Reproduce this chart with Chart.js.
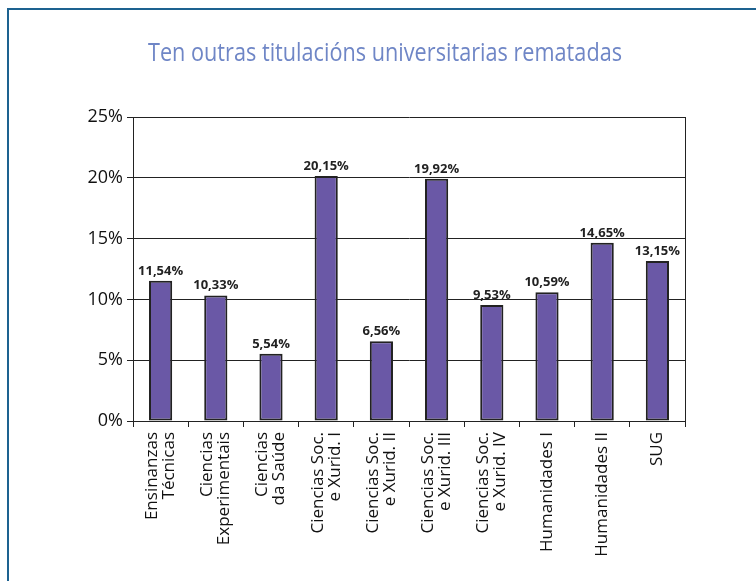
<!DOCTYPE html>
<html><head><meta charset="utf-8">
<script src="https://cdn.jsdelivr.net/npm/chart.js@4.4.1/dist/chart.umd.min.js"></script>
<style>
html,body{margin:0;padding:0;background:#fff;}
#wrap{position:relative;width:756px;height:581px;overflow:hidden;}
#frame{position:absolute;left:7px;top:8px;right:-10px;bottom:-10px;border-left:2px solid #1d6290;border-top:2px solid #1d6290;pointer-events:none;}
canvas{position:absolute;left:0;top:0;}
</style></head>
<body><div id="wrap"><canvas id="c" width="756" height="581"></canvas><div id="frame"></div></div>
<script>
const chartTitle = "Ten outras titulacións universitarias rematadas";
const categories = [
  ["Ensinanzas","Técnicas"],
  ["Ciencias","Experimentais"],
  ["Ciencias","da Saúde"],
  ["Ciencias Soc.","e Xurid. I"],
  ["Ciencias Soc.","e Xurid. II"],
  ["Ciencias Soc.","e Xurid. III"],
  ["Ciencias Soc.","e Xurid. IV"],
  ["Humanidades I"],
  ["Humanidades II"],
  ["SUG"]
];
const values = [11.54, 10.33, 5.54, 20.15, 6.56, 19.92, 9.53, 10.59, 14.65, 13.15];
const yTicks = [0, 5, 10, 15, 20, 25];

const fmt = v => v.toFixed(2).replace('.', ',') + '%';

const extras = {
  id: 'extras',
  afterDraw(chart) {
    const ctx = chart.ctx, a = chart.chartArea;
    ctx.save();
    // right frame of plot area
    ctx.strokeStyle = '#222';
    ctx.lineWidth = 1;
    ctx.beginPath();
    ctx.moveTo(Math.round(a.right) + 0.5, a.top);
    ctx.lineTo(Math.round(a.right) + 0.5, a.bottom);
    ctx.stroke();
    // value labels
    const meta = chart.getDatasetMeta(0);
    ctx.font = 'bold 13px "Open Sans", sans-serif';
    ctx.fillStyle = '#222';
    ctx.textAlign = 'center';
    ctx.textBaseline = 'alphabetic';
    meta.data.forEach((bar, i) => {
      ctx.fillText(fmt(values[i]), bar.x, bar.y - 6);
    });
    // category labels, rotated, lines centred on tick
    const xs = chart.scales.x;
    const lh = 17;
    ctx.font = '17px "Open Sans", sans-serif';
    ctx.fillStyle = '#111';
    ctx.textAlign = 'right';
    ctx.textBaseline = 'middle';
    categories.forEach((lines, i) => {
      const px = xs.getPixelForTick(i);
      const n = lines.length;
      lines.forEach((t, j) => {
        const cx = px + (j - (n - 1) / 2) * lh;
        ctx.save();
        ctx.translate(cx, a.bottom + 11);
        ctx.rotate(-Math.PI / 2);
        ctx.fillText(t, 0, 0);
        ctx.restore();
      });
    });
    // title, condensed horizontally
    ctx.font = '500 26px "Open Sans", sans-serif';
    ctx.fillStyle = '#6f86c6';
    ctx.textAlign = 'center';
    ctx.textBaseline = 'alphabetic';
    const w = ctx.measureText(chartTitle).width;
    const sx = 474 / w;
    ctx.translate(385, 61);
    ctx.scale(sx, 1);
    ctx.fillText(chartTitle, 0, 0);
    ctx.restore();
  }
};

new Chart(document.getElementById('c'), {
  type: 'bar',
  data: {
    labels: categories,
    datasets: [{
      data: values,
      backgroundColor: '#6a58a6',
      borderColor: '#222',
      borderWidth: 2,
      borderSkipped: false,
      categoryPercentage: 1,
      barPercentage: 0.42
    }]
  },
  options: {
    responsive: false,
    animation: false,
    layout: { padding: { left: 0, right: 71, top: 117, bottom: 0 } },
    plugins: {
      legend: { display: false },
      tooltip: { enabled: false },
      title: { display: false }
    },
    scales: {
      y: {
        min: 0, max: 25,
        afterFit(s) { s.width = 133; },
        afterBuildTicks(s) { s.ticks = yTicks.map(v => ({ value: v })); },
        ticks: {
          callback: v => v + '%',
          color: '#111',
          font: { family: '"Open Sans", sans-serif', size: 18 },
          padding: 4
        },
        grid: { color: '#222', lineWidth: 1, tickLength: 6, drawTicks: true },
        border: { display: true, color: '#222', width: 1 }
      },
      x: {
        afterFit(s) { s.height = 160; },
        ticks: { display: false },
        grid: { display: true, drawOnChartArea: false, drawTicks: true, tickLength: 6, color: '#222', offset: true },
        border: { display: true, color: '#222', width: 1 }
      }
    }
  },
  plugins: [extras]
});
</script></body></html>
